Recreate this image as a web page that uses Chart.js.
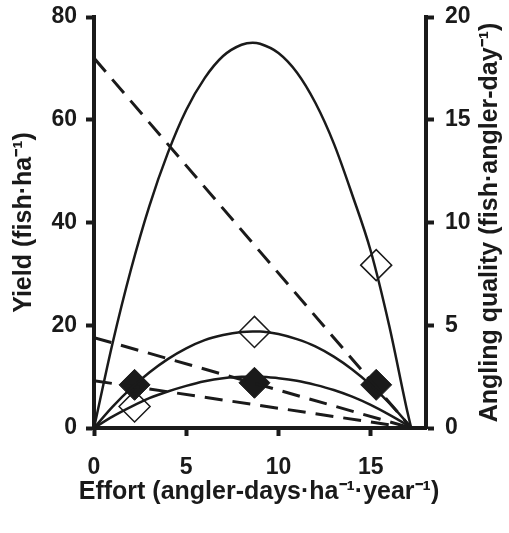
<!DOCTYPE html>
<html>
<head>
<meta charset="utf-8">
<script src="https://cdn.jsdelivr.net/npm/chart.js@4"></script>
<style>
  html, body { margin: 0; padding: 0; background: #fff; }
  #graf { display: block; }
</style>
</head>
<body>
<canvas id="graf" width="509" height="533"></canvas>
<script>
// effort grid for the three yield curves
const effortGrid = [0, 1, 2, 3, 4, 5, 6, 7, 8, 8.6, 9, 10, 11, 12, 13, 14, 15, 16, 17, 17.2];
const yieldHigh = [0, 16.4, 30.8, 43.2, 53.5, 61.9, 68.1, 72.4, 74.6, 75, 74.8, 73.0, 69.2, 63.3, 55.4, 45.4, 34.5, 20, 3, 0];
const yieldMid  = [0, 4.1, 7.7, 10.8, 13.4, 15.5, 17.1, 18.1, 18.7, 18.8, 18.8, 18.3, 17.3, 15.9, 13.9, 11.4, 8.4, 4.9, 0.9, 0];
const yieldLow  = [0, 2.2, 4.1, 5.8, 7.1, 8.2, 9.1, 9.7, 10.0, 10.0, 10.0, 9.7, 9.2, 8.4, 7.4, 6.1, 4.5, 2.6, 0.5, 0];

// angling quality lines (right axis)
const qualityEffort = [0, 17.2];
const qualityHigh = [18.0, 0];
const qualityMid  = [4.4, 0];
const qualityLow  = [2.3, 0];

// diamonds
const markerEffort = [2.2, 8.7, 15.3];
const yieldAtEffort = [4.2, 18.7, 31.7];     // open diamonds, left axis
const qualityAtEffort = [2.1, 2.2, 2.1];     // filled diamonds, right axis

const xTicks = [0, 5, 10, 15];
const yTicks = [0, 20, 40, 60, 80];
const y2Ticks = [0, 5, 10, 15, 20];

const cerna = "#1a1a1a";
const pismo = "'Liberation Sans', Arial, sans-serif";

function body(xs, ys) {
    return xs.map((x, i) => ({ x: x, y: ys[i] }));
}

function krivka(ys) {
    return {
        data: body(effortGrid, ys), yAxisID: "y", showLine: true,
        borderColor: cerna, borderWidth: 2.5, pointRadius: 0,
        cubicInterpolationMode: "monotone"
    };
}

function carkovana(ys) {
    return {
        data: body(qualityEffort, ys), yAxisID: "y2", showLine: true,
        borderColor: cerna, borderWidth: 3, borderDash: [18, 10], pointRadius: 0
    };
}

// x title is wider than the scale (Chart.js would squeeze it) and the right
// title reads bottom-to-top, so both are drawn here
const nadpisy = {
    id: "nadpisy",
    afterDraw(chart) {
        const ctx = chart.ctx;
        const a = chart.chartArea;
        ctx.save();
        ctx.font = "bold 25px " + pismo;
        ctx.fillStyle = cerna;
        ctx.textAlign = "center";
        ctx.textBaseline = "middle";
        ctx.fillText("Effort (angler-days\u00B7ha\u207B\u00B9\u00B7year\u207B\u00B9)", 259, 492);
        ctx.translate(490, (a.top + a.bottom) / 2);
        ctx.rotate(-Math.PI / 2);
        ctx.fillText("Angling quality (fish\u00B7angler-day\u207B\u00B9)", 0, 0);
        ctx.restore();
    }
};

function pevneTicky(hodnoty) {
    return function(scale) {
        scale.ticks = hodnoty.map(v => ({ value: v }));
    };
}

const osa = {
    border: { display: true, color: cerna, width: 4 },
    grid: { drawOnChartArea: false, drawTicks: true, tickLength: 8, tickWidth: 4, tickColor: cerna },
};
const tickFont = { family: pismo, size: 23, weight: "bold" };
const titleFont = { family: pismo, size: 25, weight: "bold" };

new Chart(document.getElementById("graf").getContext("2d"), {
    type: "scatter",
    data: {
        datasets: [
            krivka(yieldHigh), krivka(yieldMid), krivka(yieldLow),
            carkovana(qualityHigh), carkovana(qualityMid), carkovana(qualityLow),
            {
                data: body(markerEffort, yieldAtEffort), yAxisID: "y",
                pointStyle: "rectRot", pointRadius: 15.5, pointBorderWidth: 1.5,
                pointBackgroundColor: "rgba(0,0,0,0)", pointBorderColor: cerna
            },
            {
                data: body(markerEffort, qualityAtEffort), yAxisID: "y2",
                pointStyle: "rectRot", pointRadius: 15.5, pointBorderWidth: 1,
                pointBackgroundColor: cerna, pointBorderColor: cerna
            }
        ]
    },
    options: {
        responsive: false,
        animation: false,
        layout: { padding: { top: 17, right: 0, bottom: 0, left: 0 } },
        plugins: { legend: { display: false }, tooltip: { enabled: false } },
        scales: {
            x: {
                type: "linear", min: 0, max: 18,
                ...osa,
                afterBuildTicks: pevneTicky(xTicks),
                afterFit(s) { s.height = 105; s.paddingLeft = 0; s.paddingRight = 0; },
                ticks: { color: cerna, padding: 18, font: tickFont }
            },
            y: {
                position: "left", min: 0, max: 80,
                ...osa,
                afterBuildTicks: pevneTicky(yTicks),
                afterFit(s) { s.width = 94; s.paddingTop = 0; s.paddingBottom = 0; },
                ticks: { color: cerna, padding: 9, font: tickFont },
                title: {
                    display: true, color: cerna,
                    text: "Yield (fish\u00B7ha\u207B\u00B9)",
                    font: titleFont,
                    padding: { top: 9, bottom: 0 }
                }
            },
            y2: {
                position: "right", min: 0, max: 20,
                ...osa,
                afterBuildTicks: pevneTicky(y2Ticks),
                afterFit(s) { s.width = 83; s.paddingTop = 0; s.paddingBottom = 0; },
                ticks: { color: cerna, padding: 11, font: tickFont }
            }
        }
    },
    plugins: [nadpisy]
});
</script>
</body>
</html>
